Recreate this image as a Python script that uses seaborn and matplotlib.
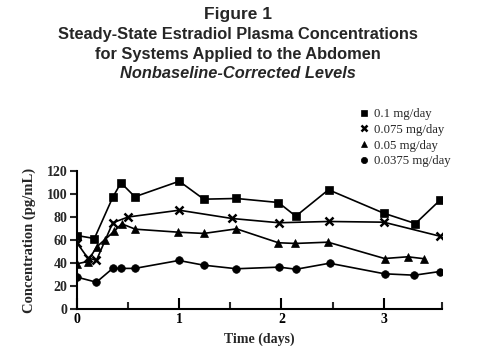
import matplotlib
matplotlib.use("Agg")
import matplotlib.pyplot as plt
import seaborn as sns
import pandas as pd
from matplotlib.lines import Line2D

# ---- data ----
doses = ["0.1 mg/day", "0.075 mg/day", "0.05 mg/day", "0.0375 mg/day"]

t_01 = [0.0, 0.17, 0.35, 0.43, 0.566, 1.0, 1.24, 1.56, 1.97, 2.14, 2.46, 3.0, 3.31, 3.55]
c_01 = [63.9, 61.3, 97.2, 109.7, 97.6, 111.1, 95.5, 96.1, 92.6, 80.7, 103.7, 83.3, 74.3, 94.6]

t_0075 = [0.0, 0.104, 0.19, 0.35, 0.5, 1.0, 1.516, 1.975, 2.46, 3.0, 3.55]
c_0075 = [57.5, 44.5, 42.3, 75.0, 80.0, 85.9, 78.7, 75.0, 76.1, 75.5, 63.3]

t_005 = [0.0, 0.104, 0.192, 0.273, 0.365, 0.437, 0.57, 0.99, 1.24, 1.56, 1.97, 2.135, 2.455, 3.008, 3.235, 3.398]
c_005 = [39.3, 41.3, 53.9, 60.4, 67.7, 74.1, 69.4, 66.8, 65.7, 69.7, 57.6, 57.0, 58.1, 43.9, 45.4, 43.7]

t_00375 = [0.0, 0.19, 0.349, 0.43, 0.565, 0.996, 1.24, 1.56, 1.975, 2.145, 2.47, 3.008, 3.3, 3.55]
c_00375 = [27.7, 23.3, 35.3, 35.3, 35.3, 42.2, 38.1, 35.0, 36.4, 34.6, 39.8, 30.6, 29.4, 32.6]

y_ticks = [0, 20, 40, 60, 80, 100, 120]
x_ticks = [0, 1, 2, 3]

frames = []
for d, t, c in [(doses[0], t_01, c_01), (doses[1], t_0075, c_0075),
                (doses[2], t_005, c_005), (doses[3], t_00375, c_00375)]:
    frames.append(pd.DataFrame({"Time": t, "Conc": c, "Dose": d}))
df = pd.concat(frames, ignore_index=True)

sns.set_style("ticks")
serif = ["Liberation Serif", "DejaVu Serif"]
sans = ["Liberation Sans", "DejaVu Sans"]
plt.rcParams["font.family"] = serif

fig = plt.figure(figsize=(4.8, 3.46), dpi=100)
ax = fig.add_axes([77 / 480, 1 - 309 / 346, (442 - 77) / 480, (309 - 171) / 346])

markers = {doses[0]: "s", doses[1]: "x", doses[2]: "^", doses[3]: "o"}
msizes = {doses[0]: 5.5, doses[1]: 6, doses[2]: 5.5, doses[3]: 5.5}
for d in doses:
    sub = df[df["Dose"] == d]
    sns.lineplot(data=sub, x="Time", y="Conc", ax=ax, color="black", lw=1.2,
                 marker=markers[d], markersize=msizes[d],
                 markeredgewidth=1.8 if d == doses[1] else 0.5,
                 markeredgecolor="black", markerfacecolor="black",
                 estimator=None, sort=False, legend=False)

ax.set_xlim(0, 3.57)
ax.set_ylim(0, 120)
ax.set_yticks(y_ticks)
ax.set_yticklabels([str(v) for v in y_ticks], fontweight="bold", fontsize=10)
ax.set_xticks(x_ticks)
ax.set_xticklabels([str(v) for v in x_ticks], fontweight="bold", fontsize=10)
ax.set_xticks([0.5, 1.5, 2.5, 3.57], minor=True)
ax.tick_params(axis="x", which="major", direction="in", length=8, width=1.5, pad=3, colors="black")
ax.tick_params(axis="x", which="minor", direction="in", length=5, width=1.5)
ax.tick_params(axis="y", which="major", direction="out", length=5, width=1.5, pad=2)
for s in ["top", "right"]:
    ax.spines[s].set_visible(False)
for s in ["left", "bottom"]:
    ax.spines[s].set_linewidth(1.5)
    ax.spines[s].set_color("black")

ax.set_xlabel("Time (days)", fontweight="bold", fontsize=10)
ax.set_ylabel("Concentration (pg/mL)", fontweight="bold", fontsize=10.5)
ax.xaxis.set_label_coords(0.5, -0.17)
ax.yaxis.set_label_coords((36 - 77) / 365, 0.5)

handles = [Line2D([], [], ls="none", marker=markers[d], color="black",
                  markersize=4.5, markeredgewidth=1.8 if d == doses[1] else 0.5)
           for d in doses]
fig.legend(handles, doses, loc="upper left", bbox_to_anchor=(360 / 480, 1 - 108 / 346),
           frameon=False, handlelength=0.6, handletextpad=0.5, labelspacing=0.3,
           borderpad=0, borderaxespad=0, prop={"family": serif, "size": 9.2})

cx = 0.495
fig.text(cx, 1 - 15 / 346, "Figure 1", ha="center", va="center",
         family=sans, fontweight="bold", fontsize=12.5)
fig.text(cx, 1 - 35 / 346, "Steady-State Estradiol Plasma Concentrations", ha="center",
         va="center", family=sans, fontweight="bold", fontsize=11.8)
fig.text(cx, 1 - 54 / 346, "for Systems Applied to the Abdomen", ha="center",
         va="center", family=sans, fontweight="bold", fontsize=11.8)
fig.text(cx, 1 - 73 / 346, "Nonbaseline-Corrected Levels", ha="center",
         va="center", family=sans, fontweight="bold", style="italic", fontsize=11.8)

fig.savefig("out.png", dpi=100)
